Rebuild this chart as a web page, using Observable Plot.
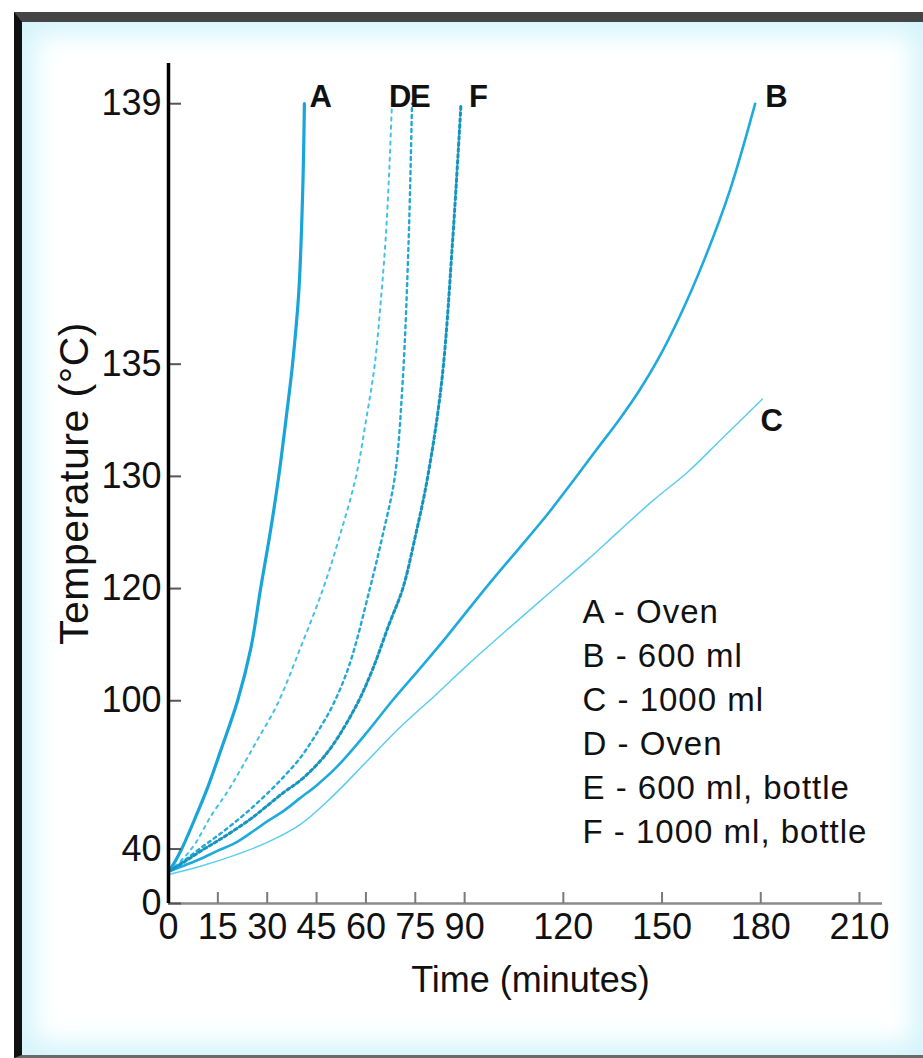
<!DOCTYPE html>
<html>
<head>
<meta charset="utf-8">
<script src="https://cdn.jsdelivr.net/npm/d3@7"></script>
<script src="https://cdn.jsdelivr.net/npm/@observablehq/plot@0.6"></script>
<style>
html, body { margin: 0; padding: 0; background: #fff; overflow: hidden; width: 923px; height: 1058px; }
#frame {
  position: absolute; left: 14px; top: 12px; width: 903px; height: 1033px;
  border-top: 10px solid #454545; border-left: 8px solid #111; border-bottom: 3px solid #6a6a6a;
  background: #fff; box-shadow: inset 0 0 26px 12px #d3f4fb;
}
#chart { position: absolute; left: 0; top: 0; }
</style>
</head>
<body>
<div id="frame"></div>
<div id="chart"></div>
<script>
// ---------- data ----------
const xTicks = [0, 15, 30, 45, 60, 75, 90, 120, 150, 180, 210];
const yTicks = [0, 40, 100, 120, 130, 135, 139];

// [time (min), temperature (°C)]
const seriesA = [[0,25],[2,32],[4,40],[8,57],[12,72],[16,86],[21,100],[25,111],[28,120],[31,126],[33.5,130],[36,133.3],[37.7,135],[39.6,136.8],[40.8,138.3],[41.3,139]];
const seriesB = [[0,25],[5,29.5],[10,34],[15,39],[20,43.4],[25,49.5],[30,55.7],[35,61],[40,67],[45,72.5],[51,79.6],[60,91],[68,100],[76.4,107.2],[84,112.7],[91.6,117.5],[99,121.3],[106.8,124.5],[115,127.3],[122.9,129.7],[130,131.5],[137.2,133],[143,134.1],[148.5,135.1],[155.5,136.3],[163,137.4],[170.7,138.3],[178.3,139]];
const seriesC = [[0,23],[10,29],[20,36],[30,44],[40,54],[50,68],[60,81.5],[70,92.5],[81.6,101.7],[91,108],[101.6,113.6],[114,118.8],[127.2,123.2],[137,126],[147.3,128.4],[158,130.3],[167.7,132],[180.5,133.8]];
const seriesD = [[0,25],[4,33],[8,43],[13,58.7],[18,70],[22,79],[27,89],[33,99],[40,111],[47,120],[52,125.5],[57,130],[60,132.9],[62.7,135],[64.5,136.6],[66,137.7],[67.1,138.5],[67.9,139]];
const seriesE = [[0,25],[5,33],[10,41],[15,48],[20,55],[25,62],[30,69],[35,76],[40,83],[45,91],[50,99],[55,108],[61.2,120],[65,125.5],[68.8,130],[71.2,134.5],[73,137.7],[74,139]];
const seriesF = [[0,25],[5,32],[10,39],[15,45],[20,51],[25,57],[27.7,60.5],[35,69.5],[40,74.5],[45,80.5],[50,87.5],[57.2,99],[62,107],[67,115],[71.2,120],[75,125.5],[78.8,130],[83.1,134.5],[86.4,137.7],[88.9,139]];

const seriesNames = ["A", "B", "C", "D", "E", "F"];
const legendItems = ["A - Oven", "B - 600 ml", "C - 1000 ml", "D - Oven", "E - 600 ml, bottle", "F - 1000 ml, bottle"];
const xLabel = "Time (minutes)";
const yLabel = "Temperature (\u00B0C)";

// ---------- layout & style ----------
const W = 923, H = 1058;
const M = {top: 63, right: 41, bottom: 155, left: 168};
const plotW = W - M.left - M.right;
const plotH = H - M.top - M.bottom;
const T_REF = 140; // vertical axis is logarithmic in (140 - T)
const font = "'Liberation Sans', Arial, Helvetica, sans-serif";

const styles = {
  A: {stroke: "#19a5da", strokeWidth: 3.2, dash: null},
  B: {stroke: "#1eaadf", strokeWidth: 2.6, dash: null},
  C: {stroke: "#5ccdee", strokeWidth: 1.5, dash: null},
  D: {stroke: "#42c2e8", strokeWidth: 2, dash: "3,5"},
  E: {stroke: "#23a8d5", strokeWidth: 2.4, dash: "3,4"},
  F: {stroke: "#1594bf", strokeWidth: 3, dash: "3,3"}
};
const labelOffset = {A: [5, -7], B: [10, -7], C: [-2, 22], D: [-3, -7], E: [-2, -7], F: [8, -7]};

const seriesData = {A: seriesA, B: seriesB, C: seriesC, D: seriesD, E: seriesE, F: seriesF};
const rows = seriesNames.map(s => seriesData[s].map(([t, T]) => ({s, t, T})));

const lineMarks = seriesNames.map((s, i) =>
  Plot.line(rows[i], {
    x: "t", y: d => T_REF - d.T,
    stroke: styles[s].stroke, strokeWidth: styles[s].strokeWidth,
    strokeDasharray: styles[s].dash, curve: "catmull-rom"
  })
);

const labelMarks = seriesNames.map((s, i) => {
  const last = rows[i][rows[i].length - 1];
  return Plot.text([last], {
    x: "t", y: d => T_REF - d.T, text: () => s,
    dx: labelOffset[s][0], dy: labelOffset[s][1],
    textAnchor: "start", lineAnchor: "middle",
    fontSize: 31, fontWeight: 700, fill: "#111"
  });
});

const chart = Plot.plot({
  width: W, height: H,
  marginTop: M.top, marginRight: M.right, marginBottom: M.bottom, marginLeft: M.left,
  style: {background: "transparent", fontFamily: font, color: "#111", overflow: "visible"},
  x: {domain: [0, 217]},
  y: {type: "log", domain: [T_REF, 0.78], axis: null},
  marks: [
    ...lineMarks,
    Plot.ruleY([0], {y: d => T_REF - d, stroke: "#8a8a8a", strokeWidth: 2.5}),
    Plot.tickX(xTicks, {x: d => d, insetTop: plotH - 11, stroke: "#7a7a7a", strokeWidth: 2}),
    Plot.tickY(yTicks, {y: d => T_REF - d, insetRight: plotW - 13, stroke: "#555", strokeWidth: 2}),
    Plot.ruleX([0], {stroke: "#000", strokeWidth: 3.5}),
    Plot.axisX({ticks: xTicks, tickSize: 0, tickPadding: 10, fontSize: 36, label: null}),
    Plot.text(yTicks, {frameAnchor: "left", y: d => T_REF - d, text: d => String(d),
                       dx: -7, textAnchor: "end", lineAnchor: "middle", fontSize: 36, fill: "#111"}),
    ...labelMarks,
    Plot.text([legendItems.join("\n")], {
      frameAnchor: "top-left", dx: 414, dy: 528, lineAnchor: "top", textAnchor: "start",
      lineHeight: 1.333, fontSize: 33, fill: "#111"
    }),
    Plot.text([xLabel], {frameAnchor: "bottom", dx: 5, dy: 77, lineAnchor: "middle", fontSize: 36, fill: "#111"}),
    Plot.text([yLabel], {frameAnchor: "left", dx: -94, dy: 0, rotate: -90, textAnchor: "middle",
                         lineAnchor: "middle", fontSize: 41, fill: "#111"})
  ]
});

const svgSel = d3.select(chart.tagName.toLowerCase() === "svg" ? chart : chart.querySelector("svg"));
svgSel.selectAll("text").filter(function() { return this.textContent.includes("Oven"); })
  .style("letter-spacing", "1px");
svgSel.selectAll("text").filter(function() { return this.textContent.includes("Temperature"); })
  .style("letter-spacing", "0.5px");
document.getElementById("chart").appendChild(chart);
</script>
</body>
</html>
